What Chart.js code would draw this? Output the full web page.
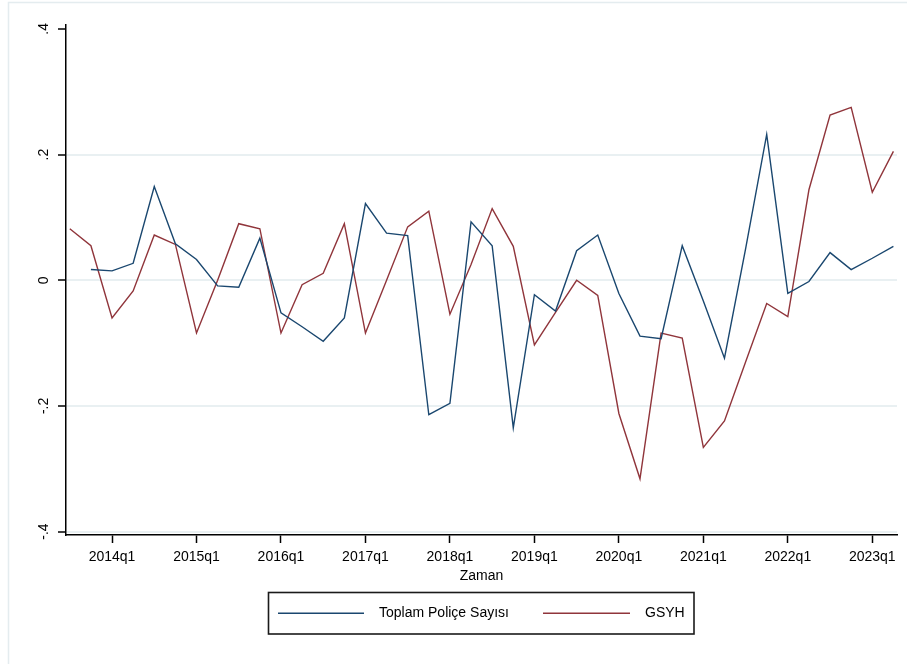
<!DOCTYPE html>
<html>
<head>
<meta charset="utf-8">
<script src="https://cdn.jsdelivr.net/npm/chart.js@4.4.1/dist/chart.umd.min.js"></script>
<style>
  html, body { margin: 0; padding: 0; background: #ffffff; }
  canvas { display: block; }
</style>
</head>
<body>
<canvas id="chart" width="907" height="664"></canvas>
<script>
// Quarterly periods on the time axis
const quarters = [
  '2013q3','2013q4',
  '2014q1','2014q2','2014q3','2014q4',
  '2015q1','2015q2','2015q3','2015q4',
  '2016q1','2016q2','2016q3','2016q4',
  '2017q1','2017q2','2017q3','2017q4',
  '2018q1','2018q2','2018q3','2018q4',
  '2019q1','2019q2','2019q3','2019q4',
  '2020q1','2020q2','2020q3','2020q4',
  '2021q1','2021q2','2021q3','2021q4',
  '2022q1','2022q2','2022q3','2022q4',
  '2023q1','2023q2'
];

// Toplam Poliçe Sayısı (growth)
const policeSeries = [
  null, 0.017,
  0.015, 0.027, 0.149, 0.058,
  0.033, -0.009, -0.011, 0.067,
  -0.052, -0.074, -0.097, -0.060,
  0.122, 0.075, 0.071, -0.214,
  -0.196, 0.093, 0.055, -0.235,
  -0.023, -0.049, 0.047, 0.072,
  -0.021, -0.089, -0.093, 0.055,
  -0.033, -0.124, 0.050, 0.232,
  -0.021, -0.002, 0.044, 0.017,
  0.035, 0.054
];

// GSYH (growth)
const gsyhSeries = [
  0.082, 0.055,
  -0.060, -0.017, 0.072, 0.057,
  -0.084, 0.000, 0.090, 0.082,
  -0.084, -0.007, 0.011, 0.090,
  -0.084, 0.000, 0.085, 0.110,
  -0.054, 0.025, 0.114, 0.054,
  -0.103, -0.051, 0.000, -0.024,
  -0.212, -0.316, -0.084, -0.092,
  -0.266, -0.224, -0.130, -0.037,
  -0.058, 0.144, 0.263, 0.275,
  0.140, 0.205
];

const seriesNames = ['Toplam Poliçe Sayısı', 'GSYH'];
const seriesColors = ['#1a476f', '#90353b'];

const xTickQuarters = ['2014q1','2015q1','2016q1','2017q1','2018q1','2019q1','2020q1','2021q1','2022q1','2023q1'];
const yTickValues = [-0.4, -0.2, 0, 0.2, 0.4];
const yTickLabels = ['-.4', '-.2', '0', '.2', '.4'];
const xAxisTitle = 'Zaman';

const FONT = "'Liberation Sans', Arial, Helvetica, sans-serif";
Chart.defaults.font.family = FONT;

const toPoints = values => quarters.map((q, i) => ({ x: i, y: values[i] }));

// Light outer frame of the graph region
const outerFrame = {
  id: 'outerFrame',
  beforeDraw(chart) {
    const ctx = chart.ctx;
    ctx.save();
    ctx.fillStyle = '#ffffff';
    ctx.fillRect(0, 0, chart.width, chart.height);
    ctx.strokeStyle = '#e4ecef';
    ctx.lineWidth = 1.5;
    ctx.strokeRect(8.5, 2.5, chart.width + 10, chart.height + 10);
    ctx.restore();
  }
};

// Boxed legend below the axis title
const boxedLegend = {
  id: 'boxedLegend',
  afterDraw(chart) {
    const ctx = chart.ctx;
    const box = { x: 268.5, y: 592.5, w: 425.5, h: 41.5 };
    const entries = [
      { lineX0: 278, lineX1: 364, textX: 379 },
      { lineX0: 543, lineX1: 630, textX: 645 }
    ];
    const midY = box.y + box.h / 2;
    ctx.save();
    ctx.strokeStyle = '#1a1a1a';
    ctx.lineWidth = 1.6;
    ctx.strokeRect(box.x, box.y, box.w, box.h);
    chart.data.datasets.forEach((ds, i) => {
      const e = entries[i];
      ctx.strokeStyle = ds.borderColor;
      ctx.lineWidth = 1.4;
      ctx.beginPath();
      ctx.moveTo(e.lineX0, midY);
      ctx.lineTo(e.lineX1, midY);
      ctx.stroke();
      ctx.fillStyle = '#000000';
      ctx.font = '14px ' + FONT;
      ctx.textBaseline = 'middle';
      ctx.textAlign = 'left';
      ctx.fillText(ds.label, e.textX, midY);
    });
    ctx.restore();
  }
};

new Chart(document.getElementById('chart'), {
  type: 'line',
  data: {
    datasets: [
      {
        label: seriesNames[0],
        data: toPoints(policeSeries),
        borderColor: seriesColors[0],
        borderWidth: 1.4,
        pointRadius: 0,
        tension: 0,
        fill: false
      },
      {
        label: seriesNames[1],
        data: toPoints(gsyhSeries),
        borderColor: seriesColors[1],
        borderWidth: 1.4,
        pointRadius: 0,
        tension: 0,
        fill: false
      }
    ]
  },
  options: {
    responsive: false,
    animation: false,
    devicePixelRatio: 1,
    layout: { padding: { top: 25, right: 10, bottom: 79, left: 0 } },
    plugins: {
      legend: { display: false },
      tooltip: { enabled: false }
    },
    scales: {
      x: {
        type: 'linear',
        min: -0.18,
        max: 39.17,
        afterBuildTicks: s => { s.ticks = xTickQuarters.map(q => ({ value: quarters.indexOf(q) })); },
        afterFit: s => { s.height = 50; },
        ticks: {
          callback: v => quarters[v],
          autoSkip: false,
          maxRotation: 0,
          padding: 6,
          color: '#000000',
          font: { size: 14 }
        },
        grid: {
          drawOnChartArea: false,
          tickLength: 8,
          tickColor: '#000000',
          tickWidth: 1.5
        },
        border: { color: '#000000', width: 1.5 },
        title: {
          display: true,
          text: xAxisTitle,
          color: '#000000',
          font: { size: 14 },
          padding: { top: 0, bottom: 0 }
        }
      },
      y: {
        min: -0.4054,
        max: 0.4062,
        afterBuildTicks: s => { s.ticks = yTickValues.map(v => ({ value: v })); },
        afterFit: s => { s.width = 66; },
        ticks: {
          callback: v => yTickLabels[yTickValues.indexOf(v)],
          minRotation: 90,
          maxRotation: 90,
          crossAlign: 'center',
          padding: 6,
          color: '#000000',
          font: { size: 14 }
        },
        grid: {
          color: c => (c.tick && c.tick.value === 0.4) ? 'rgba(0,0,0,0)' : '#e9f0f2',
          lineWidth: 2,
          tickLength: 8,
          tickColor: '#000000',
          tickWidth: 1.5
        },
        border: { color: '#000000', width: 1.5 }
      }
    }
  },
  plugins: [outerFrame, boxedLegend]
});
</script>
</body>
</html>
